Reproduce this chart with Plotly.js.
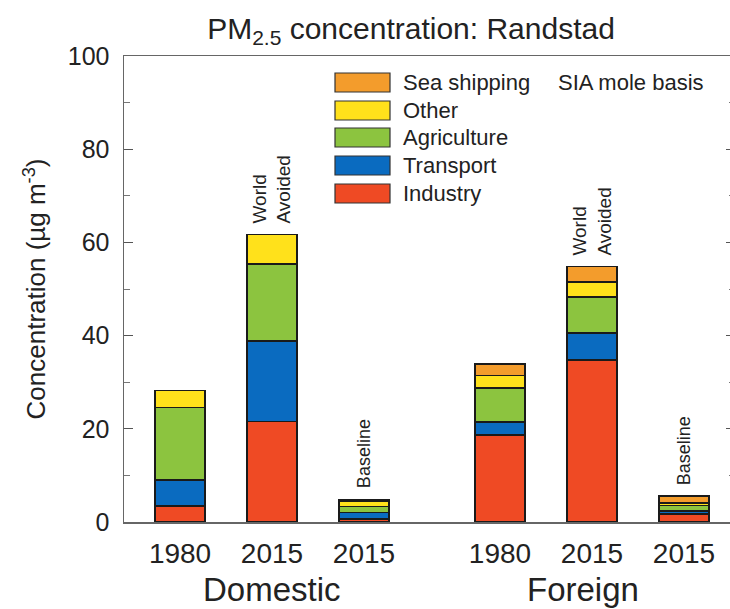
<!DOCTYPE html>
<html>
<head>
<meta charset="utf-8">
<script src="https://cdn.plot.ly/plotly-3.0.1.min.js"></script>
<style>html,body{margin:0;padding:0;overflow:hidden;background:#fff;width:730px;height:609px;}</style>
</head>
<body>
<div id="chart"></div>
<script>
// ---- data ----
const groups = ['Domestic','Domestic','Domestic','Foreign','Foreign','Foreign'];
const years = ['1980','2015','2015','1980','2015','2015'];
const scenarios = ['', 'World<br>Avoided', 'Baseline', '', 'World<br>Avoided', 'Baseline'];
const sectors = ['Industry','Transport','Agriculture','Other','Sea shipping'];
const industry    = [3.4, 21.6, 0.6, 18.7, 34.8, 1.7];
const transport   = [5.6, 17.3, 1.4, 2.7, 5.8, 0.7];
const agriculture = [15.6, 16.5, 1.3, 7.3, 7.7, 1.1];
const other       = [3.6, 6.3, 1.2, 2.7, 3.2, 0.6];
const seaShipping = [0, 0, 0.3, 2.5, 3.3, 1.5];
const colors = ['#EF4A24','#0A6BC0','#8CC43F','#FFE11B','#F39C2C'];

// ---- layout helpers ----
const W = 745, H = 609;
const L = 124, R = 735, T = 56, B = 522;
const PX = x => (x - L) / (R - L);
const PY = y => (B - y) / (B - T);
const pos = years.map((_, i) => i + (i >= 3 ? 0.478 : 0));
const series = [industry, transport, agriculture, other, seaShipping];
const FONT = 'Liberation Sans, Arial, sans-serif';

const traces = series.map((vals, k) => ({
  type: 'bar', x: pos, y: vals, name: sectors[k], width: 0.54,
  marker: {color: colors[k], line: {color: '#1a1a1a', width: 1.6}},
  showlegend: false, hoverinfo: 'name+y'
}));

const totals = pos.map((_, i) => series.reduce((s, v) => s + v[i], 0));

const annotations = [];
scenarios.forEach((s, i) => {
  if (!s) return;
  annotations.push({
    x: pos[i], y: totals[i], xref: 'x', yref: 'y', text: s, showarrow: false,
    textangle: -90, align: 'left', xanchor: 'center', yanchor: 'bottom', yshift: 9,
    font: {family: FONT, size: s === 'Baseline' ? 18 : 19, color: '#222'}
  });
});
// group labels
const groupNames = ['Domestic', 'Foreign'];
const groupX = [1, 4.38];
groupNames.forEach((g, j) => annotations.push({
  x: groupX[j], y: PY(589), xref: 'x', yref: 'paper', text: g, showarrow: false,
  xanchor: 'center', yanchor: 'middle',
  font: {family: FONT, size: 33, color: '#222'}
}));
// legend (reverse order)
const shapes = [];
const legTop = [73, 101, 128, 156, 184];
for (let r = 0; r < 5; r++) {
  const k = 4 - r;
  shapes.push({type: 'rect', xref: 'paper', yref: 'paper',
    x0: PX(335), x1: PX(390), y0: PY(legTop[r] + 19), y1: PY(legTop[r]),
    fillcolor: colors[k], line: {color: '#333', width: 1.2}});
  annotations.push({x: PX(401), y: PY(legTop[r] + 9.5), xref: 'paper', yref: 'paper',
    text: sectors[k], showarrow: false, xanchor: 'left', yanchor: 'middle',
    font: {family: FONT, size: 22, color: '#222'}});
}
annotations.push({x: PX(556), y: PY(82), xref: 'paper', yref: 'paper',
  text: 'SIA mole basis', showarrow: false, xanchor: 'left', yanchor: 'middle',
  font: {family: FONT, size: 22, color: '#222'}});

const layout = {
  width: W, height: H,
  margin: {l: L, r: W - R, t: T, b: H - B, pad: 0},
  paper_bgcolor: '#fff', plot_bgcolor: '#fff',
  barmode: 'stack',
  font: {family: FONT, color: '#222'},
  title: {text: 'PM<sub>2.5</sub> concentration: Randstad', x: 411 / W, xref: 'container', xanchor: 'center',
    y: 1 - 28 / H, yref: 'container', yanchor: 'middle',
    font: {family: FONT, size: 30, color: '#222'}},
  xaxis: {range: [-0.609, 6.033], tickmode: 'array', tickvals: pos, ticktext: years,
    ticks: '', showgrid: false, zeroline: false, showline: true, mirror: true,
    linecolor: '#666', linewidth: 1.5, tickfont: {size: 28, color: '#222'}, ticklabelstandoff: 6},
  yaxis: {range: [0, 100], tickvals: [0, 20, 40, 60, 80, 100], ticks: 'inside', ticklen: 9, tickwidth: 1.3,
    tickcolor: '#555', showgrid: false, zeroline: false, showline: true, mirror: 'ticks',
    linecolor: '#666', linewidth: 1.5, tickfont: {size: 25, color: '#222'}, ticklabelstandoff: 8,
    minor: {ticks: 'inside', dtick: 10, ticklen: 6, tickcolor: '#777', tickwidth: 1},
    title: {text: 'Concentration (µg m<sup>-3</sup>)', standoff: 14,
      font: {size: 26, color: '#222'}}},
  annotations: annotations, shapes: shapes
};

Plotly.newPlot('chart', traces, layout, {displayModeBar: false, staticPlot: true});
</script>
</body>
</html>
